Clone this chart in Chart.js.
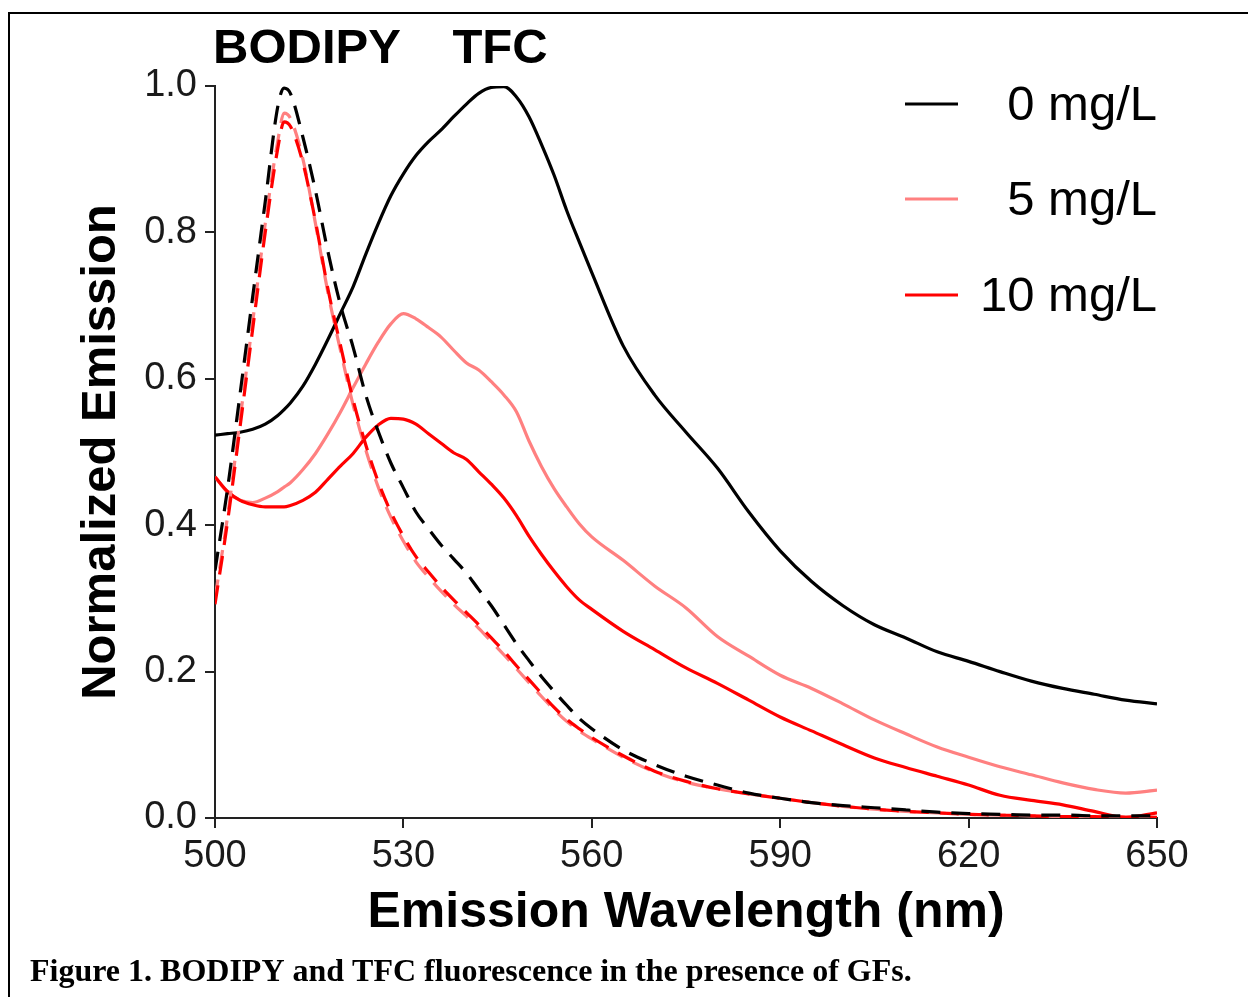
<!DOCTYPE html>
<html>
<head>
<meta charset="utf-8">
<script src="https://cdn.jsdelivr.net/npm/chart.js@4.4.1/dist/chart.umd.min.js"></script>
<style>
  html, body { margin: 0; padding: 0; background: #fff; }
  canvas { display: block; }
</style>
</head>
<body>
<canvas id="c" width="1248" height="998"></canvas>
<script>
// ---- data ----
const wavelengths = [500,502,504,506,508,510,511,512,514,516,518,520,522,524,526,528,530,532,534,536,538,540,542,544,546,548,550,552,554,556,558,560,565,570,575,580,585,590,595,600,605,610,615,620,625,630,635,640,645,650];

// TFC emission (solid lines)
const tfc0 = [.523,.525,.527,.531,.538,.550,.558,.567,.590,.620,.654,.690,.726,.770,.812,.850,.880,.905,.924,.940,.958,.975,.990,.998,.999,.985,.958,.920,.878,.830,.787,.745,.645,.578,.527,.478,.418,.365,.323,.290,.264,.246,.227,.214,.200,.187,.177,.169,.161,.156];
const tfc5 = [.466,.445,.434,.431,.437,.446,.452,.458,.476,.498,.525,.555,.588,.620,.650,.675,.689,.682,.670,.657,.639,.622,.612,.596,.578,.555,.515,.480,.450,.425,.402,.384,.352,.317,.287,.248,.221,.195,.177,.156,.134,.115,.097,.083,.070,.059,.048,.039,.034,.038];
const tfc10 = [.466,.446,.434,.428,.425,.425,.425,.427,.434,.445,.463,.481,.498,.520,.537,.546,.545,.538,.525,.512,.499,.490,.473,.456,.437,.413,.385,.360,.337,.316,.298,.285,.255,.230,.205,.184,.161,.138,.119,.100,.082,.069,.057,.045,.031,.024,.018,.009,.001,.007];

// BODIPY emission (dashed lines)
const bod0 = [.338,.450,.580,.712,.842,.972,.997,.990,.930,.857,.773,.700,.643,.578,.528,.485,.451,.418,.395,.373,.354,.335,.312,.290,.264,.238,.215,.193,.173,.154,.136,.122,.093,.073,.057,.045,.034,.027,.021,.017,.014,.011,.008,.006,.005,.004,.004,.003,.003,.003];
const bod5 = [.300,.412,.545,.678,.812,.925,.963,.956,.900,.812,.717,.638,.564,.503,.452,.411,.378,.350,.329,.310,.292,.276,.259,.241,.223,.204,.185,.166,.148,.132,.119,.108,.083,.063,.049,.040,.033,.027,.021,.016,.012,.009,.007,.005,.004,.003,.002,.002,.001,.001];
const bod10 = [.292,.405,.535,.668,.800,.915,.951,.945,.895,.815,.722,.645,.571,.510,.459,.418,.385,.357,.336,.316,.298,.281,.264,.246,.228,.208,.189,.170,.151,.135,.122,.110,.085,.064,.050,.040,.033,.027,.021,.016,.012,.009,.007,.005,.004,.003,.002,.002,.001,.001];

const xTicks = [500,530,560,590,620,650];
const yTicks = [0,0.2,0.4,0.6,0.8,1.0];
const legendLabels = ['0 mg/L','5 mg/L','10 mg/L'];
const peakLabels = ['BODIPY','TFC'];
const xTitle = 'Emission Wavelength (nm)';
const yTitle = 'Normalized Emission';
const caption = 'Figure 1. BODIPY and TFC fluorescence in the presence of GFs.';

const BLACK = '#000000', PINK = 'rgb(255,128,128)', RED = '#ff0000';
const SANS = "'Liberation Sans', Arial, Helvetica, sans-serif";
const SERIF = "'Liberation Serif', 'Times New Roman', serif";

const pts = arr => arr.map((v, i) => ({x: wavelengths[i], y: v}));
const dash = [19, 11];
function ds(label, arr, color, dashed) {
  return {
    label, data: pts(arr), borderColor: color, backgroundColor: color,
    borderWidth: 3.2, pointRadius: 0, fill: false,
    cubicInterpolationMode: 'monotone',
    borderDash: dashed ? dash : [], borderCapStyle: 'butt'
  };
}

const decor = {
  id: 'decor',
  afterDraw(chart) {
    const ctx = chart.ctx;
    ctx.save();
    // figure border
    ctx.strokeStyle = '#000'; ctx.lineWidth = 2;
    ctx.beginPath();
    ctx.moveTo(1248, 13); ctx.lineTo(9, 13); ctx.lineTo(9, 997);
    ctx.stroke();
    // peak labels
    ctx.fillStyle = '#000';
    ctx.font = 'bold 49px ' + SANS;
    ctx.textBaseline = 'middle'; ctx.textAlign = 'center';
    ctx.fillText(peakLabels[0], 307, 49);
    ctx.fillText(peakLabels[1], 500, 49);
    // legend
    const cols = [BLACK, PINK, RED];
    const ys = [104, 199, 295];
    ctx.font = '49px ' + SANS;
    ctx.textAlign = 'right';
    for (let i = 0; i < 3; i++) {
      ctx.strokeStyle = cols[i]; ctx.lineWidth = 3;
      ctx.beginPath(); ctx.moveTo(905, ys[i]); ctx.lineTo(958, ys[i]); ctx.stroke();
      ctx.fillStyle = '#000';
      ctx.fillText(legendLabels[i], 1157, ys[i] + 2);
    }
    // caption
    ctx.font = 'bold 32px ' + SERIF;
    ctx.textAlign = 'left'; ctx.textBaseline = 'alphabetic';
    ctx.fillText(caption, 30, 981);
    ctx.restore();
  }
};

new Chart(document.getElementById('c'), {
  type: 'line',
  data: {
    datasets: [
      ds('BODIPY 0 mg/L', bod0, BLACK, true),
      ds('BODIPY 10 mg/L', bod10, RED, true),
      ds('BODIPY 5 mg/L', bod5, PINK, true),
      ds('TFC 0 mg/L', tfc0, BLACK, false),
      ds('TFC 10 mg/L', tfc10, RED, false),
      ds('TFC 5 mg/L', tfc5, PINK, false)
    ]
  },
  options: {
    responsive: false,
    devicePixelRatio: 1,
    animation: false,
    events: [],
    layout: { padding: { left: 60, top: 86, right: 91, bottom: 53 } },
    plugins: { legend: { display: false }, tooltip: { enabled: false }, title: { display: false } },
    scales: {
      x: {
        type: 'linear', min: 500, max: 650,
        afterBuildTicks: s => { s.ticks = xTicks.map(v => ({value: v})); },
        afterFit: s => { s.height = 127; },
        grid: { drawOnChartArea: false, drawTicks: true, tickLength: 10, color: '#222', lineWidth: 2 },
        border: { display: true, color: '#222', width: 2 },
        ticks: { color: '#1a1a1a', font: { family: SANS, size: 38 }, padding: 6, maxRotation: 0, callback: v => String(v) },
        title: { display: true, text: xTitle, color: '#000', font: { family: SANS, size: 50, weight: 'bold' }, padding: { top: 0, bottom: 2 } }
      },
      y: {
        type: 'linear', min: 0, max: 1,
        afterBuildTicks: s => { s.ticks = yTicks.map(v => ({value: v})); },
        afterFit: s => { s.width = 155; },
        grid: { drawOnChartArea: false, drawTicks: true, tickLength: 10, color: '#222', lineWidth: 2 },
        border: { display: true, color: '#222', width: 2 },
        ticks: { color: '#1a1a1a', font: { family: SANS, size: 38 }, padding: 8, callback: v => Number(v).toFixed(1) },
        title: { display: true, text: yTitle, color: '#000', font: { family: SANS, size: 49, weight: 'bold' }, padding: { top: 12, bottom: 0 } }
      }
    }
  },
  plugins: [decor]
});
</script>
</body>
</html>
